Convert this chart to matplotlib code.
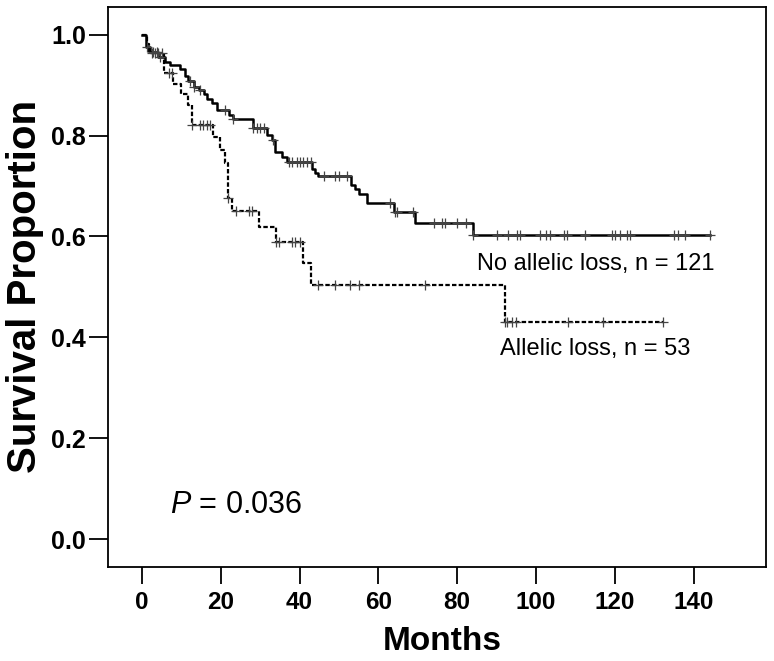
import matplotlib
matplotlib.use("Agg")
import matplotlib.pyplot as plt
import numpy as np

plt.rcParams['font.family'] = ['Liberation Sans', 'DejaVu Sans']
plt.rcParams['mathtext.fontset'] = 'custom'
plt.rcParams['mathtext.rm'] = 'Liberation Sans'
plt.rcParams['mathtext.it'] = 'Liberation Sans:italic'

# No allelic loss, n = 121 (step times in months, survival after each step)
no_loss_times = [0, 1.0, 2.1, 4.0, 5.9, 7.2, 9.7, 11.0, 11.8, 13.1, 14.4, 15.7, 16.5,
                 17.8, 19.0, 22.0, 23.1, 28.2, 31.7, 33.0, 33.8, 35.5, 36.8, 43.1,
                 44.0, 44.8, 53.0, 54.1, 55.2, 57.1, 63.9, 69.2, 84.0]
no_loss_surv = [1.0, 0.976, 0.966, 0.956, 0.946, 0.940, 0.932, 0.917, 0.907, 0.897,
                0.890, 0.882, 0.873, 0.864, 0.851, 0.841, 0.833, 0.814, 0.801, 0.791,
                0.768, 0.758, 0.747, 0.733, 0.725, 0.719, 0.702, 0.694, 0.684, 0.666,
                0.649, 0.627, 0.603]
no_loss_end = 144.1
no_loss_censor = [1.3, 2.9, 3.8, 4.6, 12.3, 13.1, 14.8, 21.1, 23.1, 28.3, 29.2, 30.0,
                  30.9, 33.3, 37.2, 38.1, 39.3, 40.2, 41.0, 41.9, 42.8, 46.1, 49.1,
                  49.9, 52.0, 63.0, 64.3, 64.7, 68.9, 74.0, 76.1, 77.0, 79.9, 82.3,
                  84.0, 90.1, 93.0, 95.2, 96.0, 101.1, 102.4, 103.6, 107.0, 107.9,
                  112.5, 119.3, 120.1, 121.4, 123.1, 123.9, 135.1, 135.9, 137.9, 144.1]

# Allelic loss, n = 53
loss_times = [0, 1.2, 1.9, 5.7, 7.9, 10.0, 11.8, 12.7, 18.0, 19.9, 21.1, 21.8, 22.8,
              29.8, 34.1, 40.8, 42.9, 92.0]
loss_surv = [1.0, 0.981, 0.963, 0.923, 0.902, 0.882, 0.861, 0.821, 0.798, 0.772,
             0.745, 0.676, 0.651, 0.6195, 0.5886, 0.547, 0.504, 0.431]
loss_end = 132.1
loss_censor = [2.5, 3.4, 4.2, 5.1, 6.8, 7.6, 12.7, 14.8, 15.6, 16.5, 17.4, 21.8,
               23.9, 27.1, 27.9, 34.1, 34.7, 38.1, 38.9, 40.2, 44.8, 49.1, 52.9,
               55.0, 71.9, 92.0, 92.6, 93.9, 94.9, 108.0, 117.0, 132.1]

x_ticks = [0, 20, 40, 60, 80, 100, 120, 140]
y_ticks = [0.0, 0.2, 0.4, 0.6, 0.8, 1.0]


def surv_at(times, surv, t):
    idx = np.searchsorted(times, t, side='right') - 1
    return np.array(surv)[idx]


fig = plt.figure(figsize=(7.74, 6.61), dpi=100)
ax = fig.add_axes([0.140, 0.142, 0.850, 0.847])

ax.step(no_loss_times + [no_loss_end], no_loss_surv + [no_loss_surv[-1]],
        where='post', color='black', lw=1.8)
ax.step(loss_times + [loss_end], loss_surv + [loss_surv[-1]],
        where='post', color='black', lw=1.6, linestyle=(0, (2, 1)))

ax.plot(no_loss_censor, surv_at(no_loss_times, no_loss_surv, no_loss_censor),
        linestyle='none', marker='+', ms=7.5, mew=0.9, color='#444444')
ax.plot(loss_censor, surv_at(loss_times, loss_surv, loss_censor),
        linestyle='none', marker='+', ms=7.5, mew=0.9, color='#444444')

ax.text(85.0, 0.534, 'No allelic loss, n = 121', fontsize=17)
ax.text(90.9, 0.365, 'Allelic loss, n = 53', fontsize=17)
ax.text(7.2, 0.052, r'$\mathit{P}$ = 0.036', fontsize=22)

ax.set_xlim(-8.5, 158.4)
ax.set_ylim(-0.055, 1.054)
ax.set_xticks(x_ticks)
ax.set_yticks(y_ticks)
ax.set_xticklabels([str(v) for v in x_ticks], fontsize=17.5, fontweight='bold')
ax.set_yticklabels(['%.1f' % v for v in y_ticks], fontsize=18, fontweight='bold')
ax.tick_params(axis='x', direction='out', length=12, width=1.3, pad=5)
ax.tick_params(axis='y', direction='out', length=14, width=1.3, pad=2)
for sp in ax.spines.values():
    sp.set_linewidth(1.3)

fig.text(442 / 774, 1 - 642 / 661, 'Months', fontsize=24, fontweight='bold',
         ha='center', va='center')
fig.text(25 / 774, 1 - 286 / 661, 'Survival Proportion', fontsize=29,
         fontweight='bold', rotation=90, ha='center', va='center')

fig.savefig('out.png', dpi=100)
